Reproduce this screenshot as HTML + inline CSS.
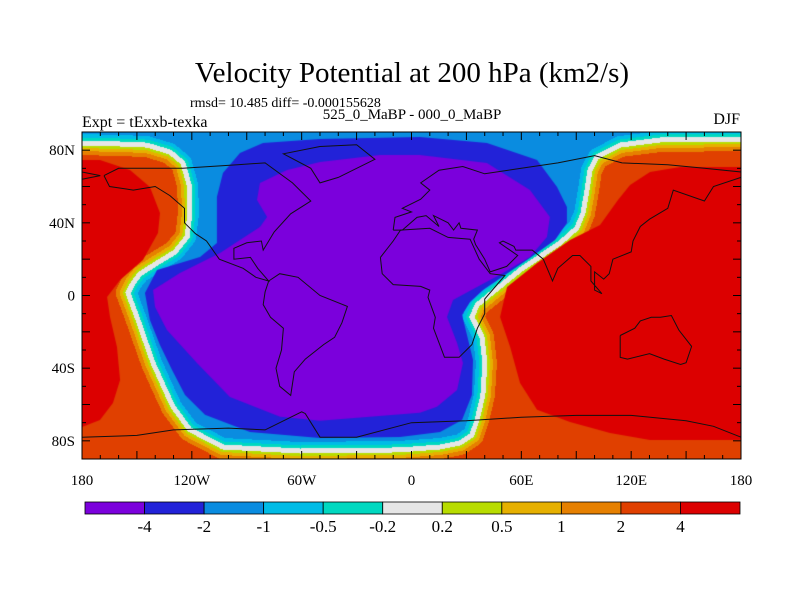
<!DOCTYPE html>
<html><head><meta charset="utf-8">
<style>
html,body{margin:0;padding:0;background:#fff;}
#wrap{position:relative;width:800px;height:600px;overflow:hidden;font-family:"Liberation Serif",serif;}
canvas{position:absolute;left:82px;top:132px;}
svg{position:absolute;left:0;top:0;}
</style></head>
<body>
<div id="wrap">
<canvas id="cv" width="659" height="327"></canvas>
<svg id="sv" width="800" height="600">
<text x="412" y="82" text-anchor="middle" font-size="29" font-family="Liberation Serif, serif">Velocity Potential at 200 hPa (km2/s)</text>
<text x="190" y="107" font-size="14" font-family="Liberation Serif, serif">rmsd= 10.485 diff= -0.000155628</text>
<text x="82" y="127" font-size="16" font-family="Liberation Serif, serif">Expt = tExxb-texka</text>
<text x="412" y="119" text-anchor="middle" font-size="15" font-family="Liberation Serif, serif">525_0_MaBP - 000_0_MaBP</text>
<text x="740" y="124" text-anchor="end" font-size="16" font-family="Liberation Serif, serif">DJF</text>
<g id="coast"></g>
<g id="ticks"></g>
<rect x="82" y="132" width="659" height="327" fill="none" stroke="#000" stroke-width="1"></rect>
<g id="labels"></g>
<g id="cbar"></g>
</svg>
</div>
<script>
// ---- data ----
const levels = [-4,-2,-1,-0.5,-0.2,0.2,0.5,1,2,4];
const colors = ["#7b00dc","#2222d8","#0a8ce0","#00bce6","#00d8c0","#e6e6e6","#b8dc00","#e6b000","#e68000","#e04000","#dc0000"];
const lonTicks = [-180,-120,-60,0,60,120,180];
const lonTickLabels = ["180","120W","60W","0","60E","120E","180"];
const latTicks = [80,40,0,-40,-80];
const latTickLabels = ["80N","40N","0","40S","80S"];
// zero contour (lon,lat)
const zeroLon = [-180,-159.2,-144.5,-131.9,-124.8,-121.5,-121,-122.6,-129.2,-139,-148.3,-152.1,-154.9,-150,-145.6,-141.2,-135.8,-130.3,-121,-103,-60.9,-6.3,15.6,26.5,33,35.8,39,40.1,38.5,33,35.8,41.2,59.3,81.1,90.4,93.7,95.9,97.5,101.3,113.9,135.7,180];
const zeroLat = [83.9,83.4,82.8,79,72.9,60.8,45.4,32.2,23.9,17.9,11.9,6.9,1.4,-11.8,-24.5,-37.1,-49.2,-61.3,-73.9,-83.4,-85.6,-85,-83.4,-81.2,-76.8,-68.5,-54.8,-37.1,-22.8,-11.8,-5.2,-0.8,14,28.9,37.2,45.4,58.1,69.1,76.2,82.8,85.6,86.1];
// v < -2 region
const blueLon = [-145.6,-139,-115.5,-106.3,-106.3,-106.3,-103,-93.7,-81.1,-50,4.6,41.2,68.6,79.5,84.9,84.9,78.4,64.7,51.1,39.1,32,27.6,30.3,33.6,33,27.6,15.6,-6.3,-50,-88.2,-112.8,-123.7,-130.8,-137.4,-142.9];
const blueLat = [1.4,14,21.2,28.9,39.9,54.2,67.4,78.4,83.9,86.1,87.2,83.9,74.6,59.7,48.7,39.9,30.6,20.6,11.3,3,-3.6,-10.7,-21.7,-35.5,-54.8,-68.5,-75.1,-77.9,-78.4,-75.1,-65.7,-54.8,-41,-27.2,-13.5];
// v < -4 region
const purpleLon = [-141.2,-126.5,-104.6,-82.8,-78.9,-84.4,-82.8,-68,-50,-17.2,4.6,41.2,64.7,75.6,74,64.7,50,35.8,22.7,19.4,24.9,28.1,24.9,13.9,4.6,-50,-71.8,-99.2,-117.2,-133.6,-140.1];
const purpleLat = [3,12.4,23.4,37.7,43.2,52.6,61.9,69.1,73.5,77.3,77.3,72.9,58.1,43.2,32.2,21.2,12.4,4.7,-2.5,-11.8,-26.1,-37.1,-52,-61.3,-64.6,-69,-66.8,-55.9,-37.1,-19,-6.3];
// v > 4 regions
const redWLon = [-180,-170.2,-153.8,-142.9,-137.4,-138.5,-146.7,-159.2,-166.3,-164.7,-160.9,-159.2,-163.1,-170.2,-180];
const redWLat = [74.6,74.6,69.1,59.7,45.4,34.4,19.6,8.5,-0.8,-11.8,-28.3,-46.5,-59.2,-68.5,-72.4];
const redELon = [180,146.7,130.3,119.4,112.8,103,86.6,68.6,52.2,48.4,53.9,59.3,68.6,86.6,108.5,130.3,180];
const redELat = [70.7,70.7,68,60.8,52.6,38.8,30.6,17.9,4.7,-11.8,-28.3,-48.1,-62.9,-69.6,-75.7,-79.5,-79.5];
// distance thresholds (px) for bands adjacent to zero line
const negDist = [2.5,5.5,9];
const posDist = [2.5,5,8,12];
// coastlines
const coasts = [
 [[-168,66],[-160,70],[-140,70],[-125,70],[-95,72],[-80,73],[-65,62],[-55,52],[-66,45],[-75,35],[-81,25],[-82,30],[-90,29],[-97,26],[-97,20],[-88,21],[-84,15],[-78,8],[-85,10],[-92,15],[-105,20],[-112,30],[-118,34],[-124,40],[-124,48],[-132,55],[-140,60],[-152,58],[-165,60],[-168,66]],
 [[-50,82],[-30,83],[-20,75],[-40,65],[-50,62],[-55,70],[-70,78],[-50,82]],
 [[-78,8],[-72,12],[-62,10],[-50,0],[-35,-6],[-38,-15],[-42,-23],[-48,-27],[-58,-35],[-64,-42],[-66,-55],[-72,-50],[-74,-40],[-71,-30],[-70,-18],[-77,-12],[-81,-5],[-80,2],[-78,8]],
 [[-17,21],[-16,12],[-10,6],[5,5],[10,3],[9,-1],[13,-12],[12,-18],[18,-34],[26,-34],[33,-27],[36,-18],[40,-10],[40,-2],[51,11],[43,12],[37,20],[32,31],[20,32],[10,37],[-6,36],[-10,30],[-17,21]],
 [[-10,36],[-9,43],[0,46],[-5,48],[5,53],[10,58],[5,62],[15,69],[28,71],[40,67],[60,70],[80,73],[100,77],[115,73],[140,72],[160,70],[180,68],[180,65],[165,60],[160,52],[143,58],[140,48],[130,42],[125,38],[121,30],[120,24],[110,20],[108,12],[105,9],[100,13],[100,3],[104,1],[98,8],[98,16],[92,22],[88,22],[80,15],[77,8],[72,20],[66,25],[57,25],[56,27],[50,30],[48,29],[58,22],[52,16],[43,13],[40,20],[35,28],[34,31],[36,36],[27,37],[26,40],[23,36],[20,40],[12,44],[15,38],[8,44],[3,43],[-5,36],[-10,36]],
 [[-180,68],[-170,66],[-180,64]],
 [[114,-22],[114,-34],[118,-35],[130,-32],[138,-35],[147,-38],[150,-37],[153,-28],[146,-19],[142,-11],[136,-12],[131,-12],[125,-14],[122,-18],[114,-22]],
 [[-180,-78],[-150,-77],[-130,-74],[-100,-73],[-80,-74],[-60,-64],[-58,-65],[-50,-78],[-30,-78],[0,-70],[30,-69],[60,-67],[90,-66],[120,-66],[150,-69],[165,-72],[180,-78]]
];

// ---- axes ----
const X0=82, X1=741, Y0=132, Y1=459;
function xOf(lon){return X0+(lon+180)/360*(X1-X0);}
function yOf(lat){return Y0+(90-lat)/180*(Y1-Y0);}
const NS="http://www.w3.org/2000/svg";

// ---- field ----
const cv=document.getElementById('cv'), ctx=cv.getContext('2d');
const W=cv.width,H=cv.height;
const zx=zeroLon.map(v=>xOf(v)-X0), zy=zeroLat.map(v=>yOf(v)-Y0);
const negPX=zx.concat([W+5,-5]), negPY=zy.concat([-5,-5]);
function inside(px,py,X,Y){let c=false;for(let i=0,j=X.length-1;i<X.length;j=i++){if(((Y[i]>py)!=(Y[j]>py))&&(px<(X[j]-X[i])*(py-Y[i])/(Y[j]-Y[i])+X[i]))c=!c;}return c;}
function hex(c){return [parseInt(c.substr(1,2),16),parseInt(c.substr(3,2),16),parseInt(c.substr(5,2),16)];}
const rgb=colors.map(hex);
const img=ctx.createImageData(W,H);
for(let y=0;y<H;y++){for(let x=0;x<W;x++){
  let dmin=1e9;
  for(let i=0;i<zx.length-1;i++){
    const ax=zx[i],ay=zy[i],bx=zx[i+1],by=zy[i+1];
    const dx=bx-ax,dy=by-ay;let t=((x+0.5-ax)*dx+(y+0.5-ay)*dy)/(dx*dx+dy*dy);t=Math.max(0,Math.min(1,t));
    const ex=ax+t*dx-x-0.5,ey=ay+t*dy-y-0.5;const d=ex*ex+ey*ey;if(d<dmin)dmin=d;}
  const d=Math.sqrt(dmin);
  let ci;
  if(inside(x+0.5,y+0.5,negPX,negPY)){
    ci = d<negDist[0]?5:d<negDist[1]?4:d<negDist[2]?3:2;
  } else {
    ci = d<posDist[0]?5:d<posDist[1]?6:d<posDist[2]?7:d<posDist[3]?8:9;
  }
  const k=(y*W+x)*4;img.data[k]=rgb[ci][0];img.data[k+1]=rgb[ci][1];img.data[k+2]=rgb[ci][2];img.data[k+3]=255;
}}
ctx.putImageData(img,0,0);
function fillPoly(lons,lats,col){ctx.beginPath();lons.forEach((lo,i)=>{const px=xOf(lo)-X0,py=yOf(lats[i])-Y0;if(i)ctx.lineTo(px,py);else ctx.moveTo(px,py);});ctx.closePath();ctx.fillStyle=col;ctx.fill();}
fillPoly(blueLon,blueLat,colors[1]);
fillPoly(purpleLon,purpleLat,colors[0]);
fillPoly(redWLon,redWLat,colors[10]);
fillPoly(redELon,redELat,colors[10]);

// ---- coastlines ----
const cg=document.getElementById('coast');
coasts.forEach(c=>{
  const p=document.createElementNS(NS,'polyline');
  p.setAttribute('points',c.map(q=>xOf(q[0]).toFixed(1)+','+yOf(q[1]).toFixed(1)).join(' '));
  p.setAttribute('fill','none');p.setAttribute('stroke','#111');p.setAttribute('stroke-width','1');
  
  
  cg.appendChild(p);
});

// ---- ticks ----
const tg=document.getElementById('ticks');
function line(x1,y1,x2,y2,g){const l=document.createElementNS(NS,'line');l.setAttribute('x1',x1);l.setAttribute('y1',y1);l.setAttribute('x2',x2);l.setAttribute('y2',y2);l.setAttribute('stroke','#000');l.setAttribute('stroke-width','1');
  
  
  g.appendChild(l);}
for(let lon=-180;lon<=180;lon+=10){const x=xOf(lon),L=(lon%30===0)?8:4;line(x,Y0,x,Y0+L,tg);line(x,Y1,x,Y1-L,tg);}
for(let lat=-90;lat<=90;lat+=10){const y=yOf(lat),L=(lat%20===0)?8:4;line(X0,y,X0+L,y,tg);line(X1,y,X1-L,y,tg);}

// ---- labels ----
const lg=document.getElementById('labels');
function txt(x,y,s,anchor,size,g){const t=document.createElementNS(NS,'text');t.setAttribute('x',x);t.setAttribute('y',y);t.setAttribute('text-anchor',anchor);t.setAttribute('font-size',size);t.setAttribute('font-family','Liberation Serif, serif');t.textContent=s;g.appendChild(t);return t;}
lonTicks.forEach((lon,i)=>{const t=txt(xOf(lon),485,lonTickLabels[i],'middle',15,lg);
  
  });
latTicks.forEach((lat,i)=>{const t=txt(75,yOf(lat)+5,latTickLabels[i],'end',15,lg);
  
  });

// ---- colorbar ----
const cb=document.getElementById('cbar');
const CB0=85,CB1=740,CBY=502,CBH=12,bw=(CB1-CB0)/colors.length;
colors.forEach((c,i)=>{const r=document.createElementNS(NS,'rect');r.setAttribute('x',CB0+i*bw);r.setAttribute('y',CBY);r.setAttribute('width',bw);r.setAttribute('height',CBH);r.setAttribute('fill',c);r.setAttribute('stroke','#000');r.setAttribute('stroke-width','0.8');
  
  
  cb.appendChild(r);});
levels.forEach((v,i)=>{const t=txt(CB0+(i+1)*bw,532,String(v),'middle',17,cb);
  
  });
</script>
</body></html>
